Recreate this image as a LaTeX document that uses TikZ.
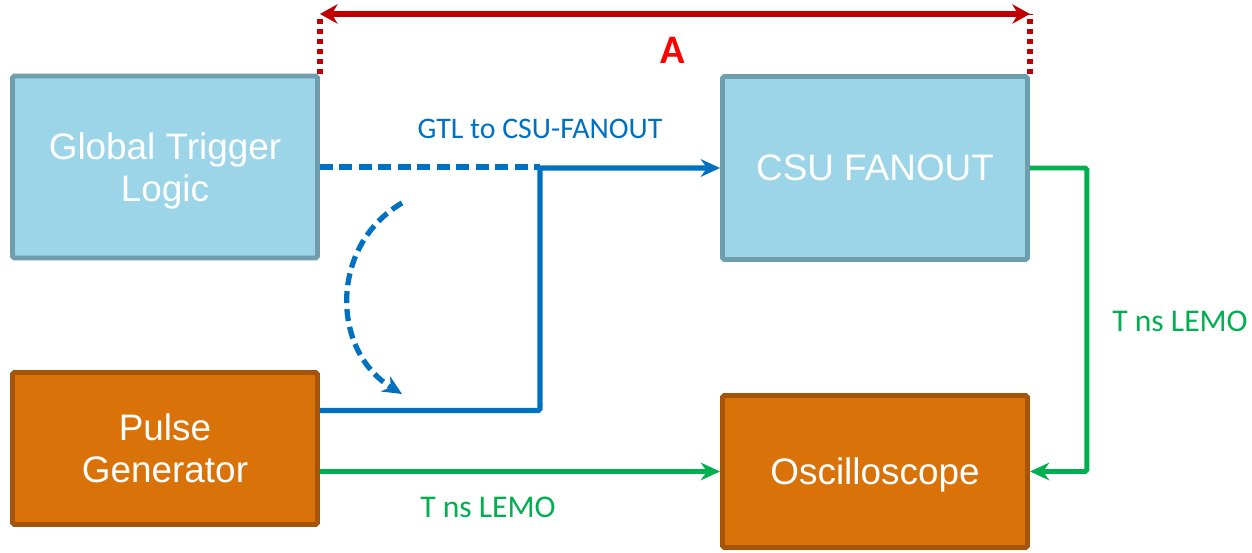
\documentclass[tikz,border=0pt]{standalone}
\usepackage{fontspec}
\setmainfont{Liberation Sans}
\newfontfamily\lblfont{Carlito}
\usetikzlibrary{arrows.meta}
\definecolor{trigfill}{RGB}{157,213,232}
\definecolor{trigedge}{RGB}{110,158,174}
\definecolor{instfill}{RGB}{218,114,10}
\definecolor{instedge}{RGB}{165,84,10}
\definecolor{sigblue}{RGB}{0,112,192}
\definecolor{lemogreen}{RGB}{0,176,80}
\definecolor{dimred}{RGB}{192,0,0}
\definecolor{ared}{RGB}{255,0,0}

\begin{document}
\begin{tikzpicture}[x=0.02cm, y=-0.02cm, >={Stealth[length=11pt,width=10pt]},
    block/.style={draw, line width=2.8pt, rounded corners=1pt, minimum width=6.1cm, inner sep=0pt,
        text depth=0pt, align=center, text=white, font=\fontsize{21}{24}\selectfont},
    trig/.style={block, draw=trigedge, fill=trigfill, minimum height=3.64cm},
    inst/.style={block, draw=instedge, fill=instfill, minimum height=3.04cm},
    sig/.style={->, line width=3pt, color=sigblue},
    lemo/.style={->, line width=2.8pt, color=lemogreen},
    lbl/.style={font=\lblfont\fontsize{17}{20}\selectfont}]
    \useasboundingbox (0,0) rectangle (1252,553);

    % boxes
    \node[trig] (gtl) at (165,167) {Global Trigger\\Logic};
    \node[trig, minimum height=3.66cm] (csu) at (875,168) {CSU FANOUT};
    \node[inst] (pg) at (165,448.5) {Pulse\\Generator};
    \node[inst] (osc) at (875,471.5) {Oscilloscope};

    % distance A
    \coordinate (top) at (0,14);
    \draw[dimred, line width=3pt, dash pattern=on 0.1cm off 0.1cm] (gtl.north east) -- (gtl.north east |- top);
    \draw[dimred, line width=3pt, dash pattern=on 0.1cm off 0.1cm] (csu.north east) -- (csu.north east |- top);
    \draw[dimred, line width=3.2pt, <->, >={Stealth[length=10pt,width=11pt]}] (gtl.north east |- top) -- (csu.north east |- top);
    \node[font=\lblfont\bfseries\fontsize{23}{26}\selectfont, text=ared] (alab) at (673,50) {A};

    % trigger paths
    \coordinate (jn) at (540,410.5);
    \draw[sig, -, dash pattern=on 0.26cm off 0.13cm] (gtl.east) -- (gtl.east -| jn);
    \draw[sig, rounded corners=1pt] ([yshift=0.76cm]pg.east) -- (jn) |- (csu.west);
    \node[lbl, text=sigblue] (gtlcsu) at (540,129) {GTL to CSU-FANOUT};
    \coordinate (cs) at (402,203);
    \coordinate (ce) at (402,394);
    \draw[sig, dash pattern=on 0.24cm off 0.12cm] (cs) .. controls (330,245) and (330,350) .. (ce);

    % LEMO cables
    \draw[lemo] ([yshift=-0.46cm]pg.east) -- (osc.west);
    \draw[lemo, rounded corners=1pt] (csu.east) -- ++(57,0) |- (osc.east);
    \node[lbl, text=lemogreen, font=\lblfont\fontsize{18}{20}\selectfont] (lemob) at (488,507) {T ns LEMO};
    \node[lbl, text=lemogreen, font=\lblfont\fontsize{18}{20}\selectfont] (lemor) at (1180,321) {T ns LEMO};
\end{tikzpicture}
\end{document}
